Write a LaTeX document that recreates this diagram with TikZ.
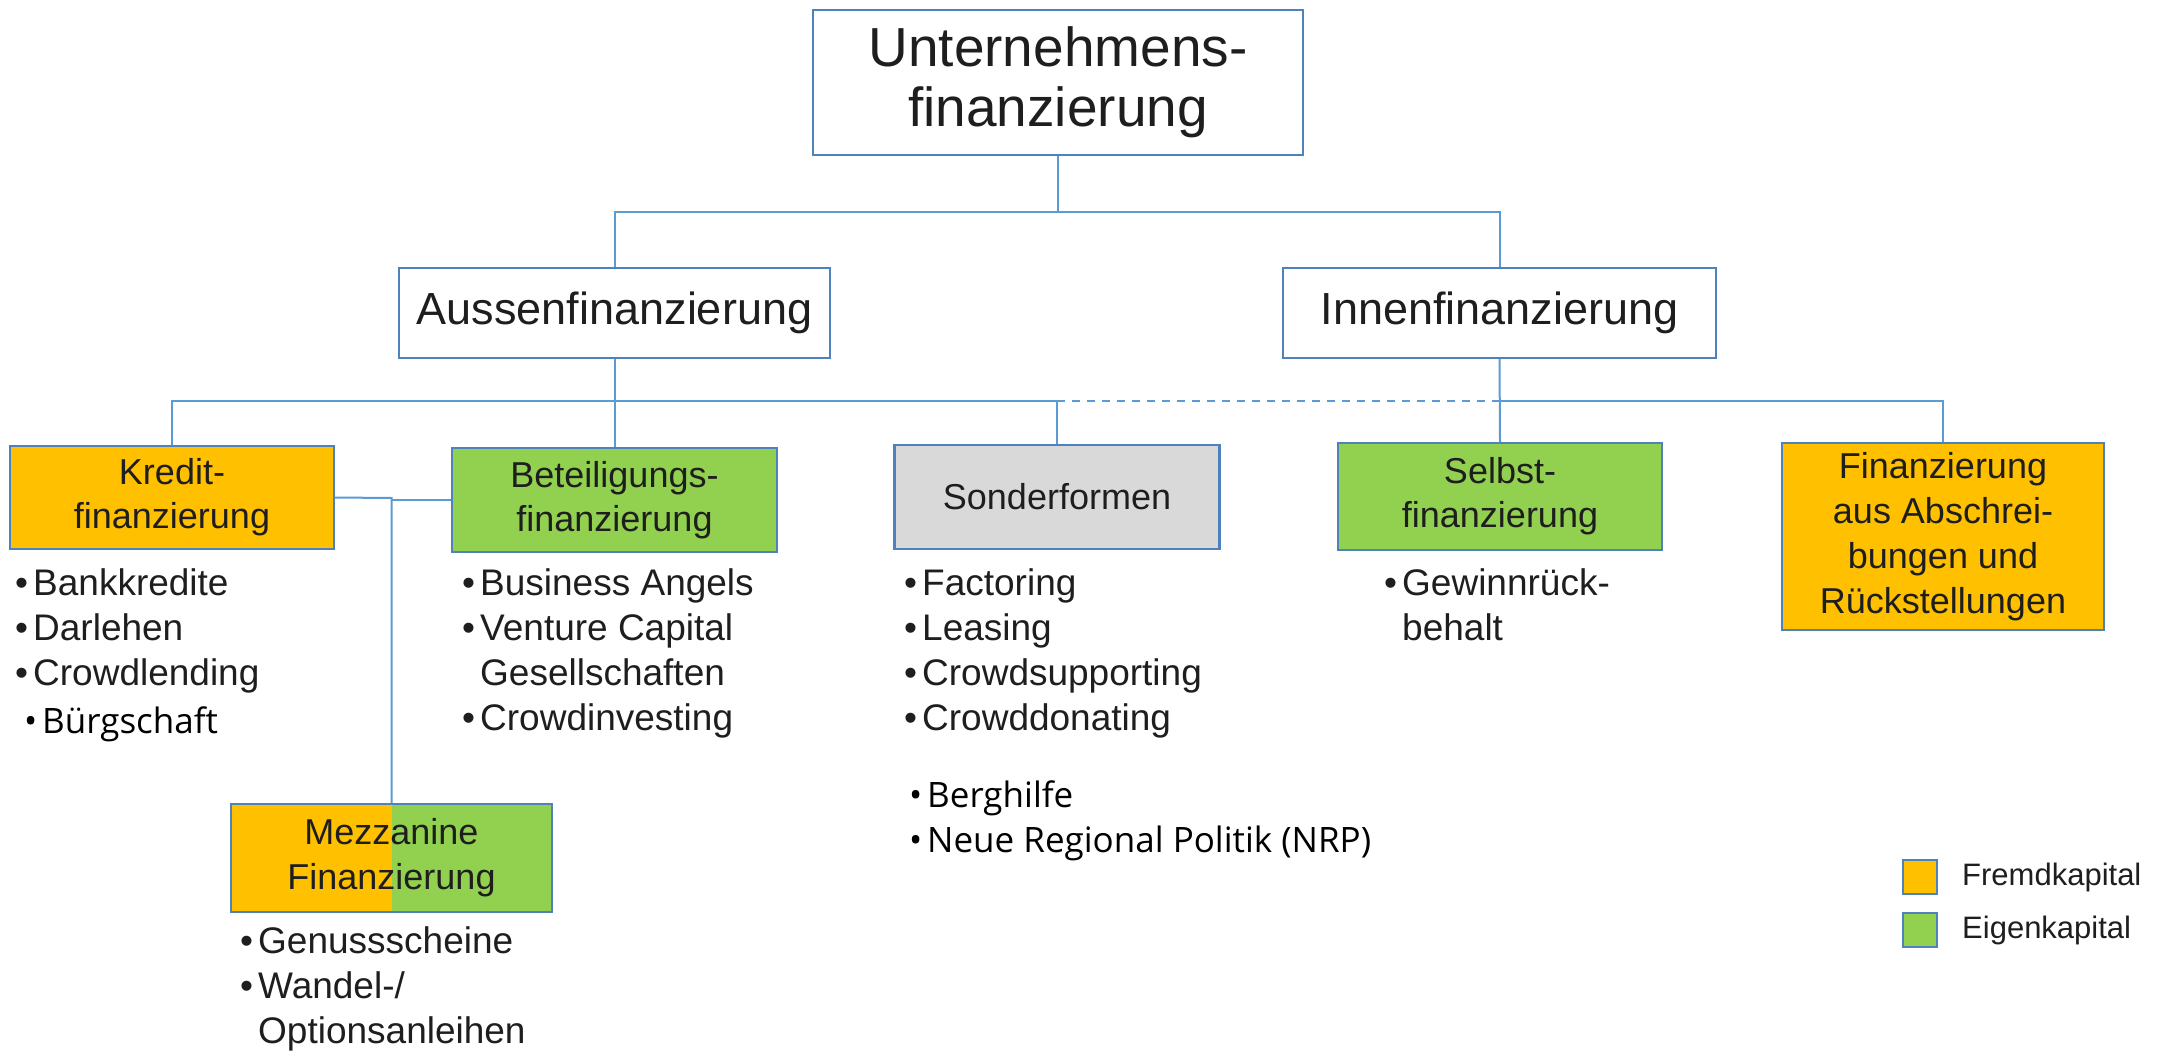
\documentclass[tikz,border=0pt]{standalone}
\usepackage{fontspec}
\setmainfont{Liberation Sans}
\newfontfamily\segoe{Open Sans}
\definecolor{fk}{HTML}{FFC000}
\definecolor{ek}{HTML}{92D050}
\definecolor{sf}{HTML}{D9D9D9}
\definecolor{bordc}{HTML}{4F81BD}
\definecolor{connc}{HTML}{5B9BD5}
\definecolor{txt}{HTML}{1E1E1E}
\newcommand\bl{\makebox[18pt][l]{•}}
\newcommand\blb{\makebox[18pt][l]{•}}
\begin{document}
\begin{tikzpicture}[x=1pt,y=-1pt]
\tikzset{
  bx/.style={draw=bordc, line width=2.2pt, inner sep=0pt, align=center, text=txt,
             font=\fontsize{36}{44}\selectfont},
  conn/.style={draw=connc, line width=2pt},
  itm/.style={anchor=base west, inner sep=0pt, text=txt, font=\fontsize{37}{45}\selectfont},
  itmb/.style={anchor=base west, inner sep=0pt, text=black, font=\segoe\fontsize{35}{45}\selectfont},
  leg/.style={draw=bordc, line width=2pt, minimum size=34pt, inner sep=0pt},
  legtxt/.style={anchor=base west, inner sep=0pt, text=txt, font=\fontsize{31}{36}\selectfont}
}
\useasboundingbox (0,0) rectangle (2161,1052);

% boxes
\node[bx, minimum width=490pt, minimum height=145pt, font=\fontsize{55}{60}\selectfont] (top) at (1058,82.5) {Unternehmens-\\finanzierung};
\node[bx, minimum width=431pt, minimum height=90pt, font=\fontsize{45}{50}\selectfont] (aussen) at (614.5,313) {Aussenfinanzierung};
\node[bx, minimum width=433pt, minimum height=90pt, font=\fontsize{45}{50}\selectfont] (innen) at (1499.5,313) {Innenfinanzierung};
\node[bx, fill=fk, minimum width=324pt, minimum height=103pt] (kredit) at (172,497.5) {Kredit-\\finanzierung};
\node[bx, fill=ek, minimum width=325pt, minimum height=104pt] (beteil) at (614.5,500) {Beteiligungs-\\finanzierung};
\node[bx, fill=sf, minimum width=325pt, minimum height=104pt] (sonder) at (1057,497) {Sonderformen};
\node[bx, fill=ek, minimum width=324pt, minimum height=107pt] (selbst) at (1500,496.5) {Selbst-\\finanzierung};
\node[bx, fill=fk, minimum width=322pt, minimum height=187pt, font=\fontsize{36}{45}\selectfont] (abschr) at (1943,536.5) {Finanzierung\\aus Abschrei-\\bungen und\\Rückstellungen};
\node[bx, minimum width=321pt, minimum height=108pt, font=\fontsize{36}{45}\selectfont,
  path picture={
    \fill[fk] (path picture bounding box.north west) rectangle (path picture bounding box.south);
    \fill[ek] (path picture bounding box.north) rectangle (path picture bounding box.south east);
  }] (mezz) at (391.5,858) {Mezzanine\\Finanzierung};

% connectors
\coordinate (j1) at (1058,212);
\draw[conn] (top.south) -- (j1);
\draw[conn] (aussen.north) |- (j1) -| (innen.north);
\coordinate (j2) at (614.5,401);
\coordinate (j3) at (1057,401);
\coordinate (j4) at (1500,401);
\draw[conn] (aussen.south) -- (beteil.north);
\draw[conn] (kredit.north) |- (j2) -- (j3) -- (sonder.north);
\draw[conn, dash pattern=on 8pt off 7pt] (j3) -- (j4);
\draw[conn] (innen.south) -- (selbst.north);
\draw[conn] (j4) -| (abschr.north);
\coordinate (j5) at (391.5,498);
\draw[conn] (kredit.east) -- (j5) -- (mezz.north);
\draw[conn] (j5 |- beteil.west) -- (beteil.west);

% Kredit list
\node[itm] (k1) at (15,595) {\bl Bankkredite};
\node[itm] (k2) at (15,640) {\bl Darlehen};
\node[itm] (k3) at (15,685) {\bl Crowdlending};
\node[itmb] (k4) at (24,733) {\blb Bürgschaft};

% Beteiligungs list
\node[itm] (b1) at (462,595) {\bl Business Angels};
\node[itm] (b2) at (462,640) {\bl Venture Capital};
\node[itm] (b3) at (480,685) {Gesellschaften};
\node[itm] (b4) at (462,730) {\bl Crowdinvesting};

% Sonderformen list
\node[itm] (s1) at (904,595) {\bl Factoring};
\node[itm] (s2) at (904,640) {\bl Leasing};
\node[itm] (s3) at (904,685) {\bl Crowdsupporting};
\node[itm] (s4) at (904,730) {\bl Crowddonating};
\node[itmb] (s5) at (909,807) {\blb Berghilfe};
\node[itmb] (s6) at (909,852) {\blb Neue Regional Politik (NRP)};

% Selbst list
\node[itm] (f1) at (1384,595) {\bl Gewinnrück-};
\node[itm] (f2) at (1402,640) {behalt};

% Mezzanine list
\node[itm] (m1) at (240,953) {\bl Genussscheine};
\node[itm] (m2) at (240,998) {\bl Wandel-/};
\node[itm] (m3) at (258,1043) {Optionsanleihen};

% legend
\node[leg, fill=fk] (lf) at (1919.5,877) {};
\node[leg, fill=ek] (le) at (1919.5,930) {};
\node[legtxt] (lft) at (1962,885) {Fremdkapital};
\node[legtxt] (let) at (1962,938) {Eigenkapital};
\end{tikzpicture}
\end{document}
